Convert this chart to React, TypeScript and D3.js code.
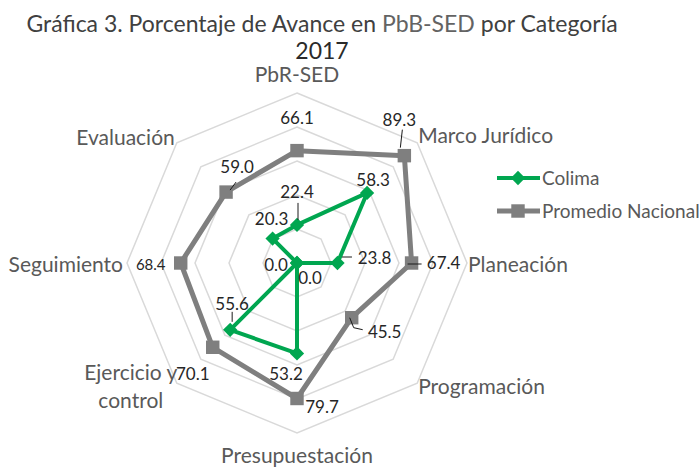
import React from 'react';
import * as d3 from 'd3';

// categorías del radar, en sentido horario desde arriba
const categories = ['PbR-SED', 'Marco Jurídico', 'Planeación', 'Programación', 'Presupuestación', 'Ejercicio y control', 'Seguimiento', 'Evaluación'];
const colima = [22.4, 58.3, 23.8, 0.0, 53.2, 55.6, 0.0, 20.3];
const promedio = [66.1, 89.3, 67.4, 45.5, 79.7, 70.1, 68.4, 59.0];
const ringTicks = [20, 40, 60, 80, 100];
const seriesNames = ['Colima', 'Promedio Nacional'];

const W = 699, H = 470;
const cx = 297, cy = 263, R = 170;
const GREEN = '#00a650';
const GRAY = '#7f7f7f';
const FONT = 'Lato, "Liberation Sans", sans-serif';

// placement of category labels relative to the outer vertex
const catLayout = [
  { anchor: 'middle', dx: 0, dy: -11 },
  { anchor: 'start', dx: 1, dy: 0 },
  { anchor: 'start', dx: 1, dy: 9 },
  { anchor: 'start', dx: 1, dy: 11 },
  { anchor: 'middle', dx: 0, dy: 30 },
  { anchor: 'middle', dx: -46, dy: -3 },
  { anchor: 'end', dx: -4, dy: 9 },
  { anchor: 'end', dx: -2, dy: 2 },
];

// data label offsets (text centre) and leader lines, relative to the marker
const promedioLabels = [
  { dx: 0, dy: -33 },
  { dx: -5, dy: -36, lead: [[-2, -26], [-4, -8]] },
  { dx: 32, dy: 0, lead: [[-4, 1], [10, 1]] },
  { dx: 33, dy: 14, lead: [[-2, 0], [2, 10], [11, 12]] },
  { dx: 25, dy: 9 },
  { dx: -20, dy: 27 },
  { dx: -30, dy: 2, small: true },
  { dx: 11, dy: -25, lead: [[10, -10], [4, -2]] },
];
const colimaLabels = [
  { dx: 0, dy: -33, lead: [[1, -22], [1, -5]] },
  { dx: 6, dy: -13 },
  { dx: 37, dy: -5, lead: [[4.5, -6], [14.5, -6]] },
  { dx: 13, dy: 15 },
  { dx: -11, dy: 21 },
  { dx: 2, dy: -26, lead: [[2, -18], [2, -8]] },
  { dx: -21, dy: 2 },
  { dx: -1, dy: -20 },
];

const rScale = d3.scaleLinear().domain([0, 100]).range([0, R]);
const angle = (i: number) => (i * 2 * Math.PI) / categories.length;
const pt = (i: number, v: number): [number, number] => [
  cx + rScale(v) * Math.sin(angle(i)),
  cy - rScale(v) * Math.cos(angle(i)),
];

const radial = d3.lineRadial<number>()
  .angle((_, i) => angle(i))
  .radius(d => rScale(d))
  .curve(d3.curveLinearClosed);

const diamond = d3.symbol().type(d3.symbolDiamond2).size(130)();
const square = d3.symbol().type(d3.symbolSquare2).size(230)();

function Labels({ values, layout }: { values: number[]; layout: any[] }) {
  return (
    <g>
      {values.map((v, i) => {
        const [x, y] = pt(i, v);
        const l = layout[i];
        return (
          <g key={i}>
            {l.lead && (
              <polyline
                points={l.lead.map((p: number[]) => `${x + p[0]},${y + p[1]}`).join(' ')}
                fill="none" stroke="#1a1a1a" strokeWidth={1} />
            )}
            <text x={x + l.dx} y={y + l.dy} dy="0.35em" textAnchor="middle"
              fontSize={l.small ? 15 : 17} fill="#262626">{v.toFixed(1)}</text>
          </g>
        );
      })}
    </g>
  );
}

export default function App() {
  return (
    <svg width={W} height={H} style={{ position: 'absolute', left: 0, top: 0, background: '#fff' }}
      fontFamily={FONT}>
      {/* title */}
      <text x={322} y={32} textAnchor="middle" fontSize={23} fill="#404040">
        <tspan>Gráfica 3. Porcentaje de Avance en </tspan>
        <tspan fill="#636363">PbB-SED</tspan>
        <tspan> por Categoría</tspan>
      </text>
      <text x={322} y={59} textAnchor="middle" fontSize={23} fill="#2a2a2a">2017</text>

      {/* rings */}
      <g transform={`translate(${cx},${cy})`}>
        {ringTicks.map(t => (
          <path key={t} d={radial(categories.map(() => t)) || ''} fill="none"
            stroke="#d9d9d9" strokeWidth={1.5} />
        ))}
      </g>

      {/* category labels */}
      {categories.map((c, i) => {
        const [x, y] = pt(i, 100);
        const l = catLayout[i];
        const lines = c === 'Ejercicio y control' ? ['Ejercicio y', 'control'] : [c];
        return (
          <text key={c} x={x + l.dx} y={y + l.dy} textAnchor={l.anchor} fontSize={21} fill="#595959">
            {lines.map((s, k) => (
              <tspan key={k} x={x + l.dx} dy={k === 0 ? 0 : 28}>{s}</tspan>
            ))}
          </text>
        );
      })}

      {/* series */}
      <g transform={`translate(${cx},${cy})`}>
        <path d={radial(promedio) || ''} fill="none" stroke={GRAY} strokeWidth={5} strokeLinejoin="round" />
        <path d={radial(colima) || ''} fill="none" stroke={GREEN} strokeWidth={4} strokeLinejoin="round" />
      </g>
      {promedio.map((v, i) => {
        const [x, y] = pt(i, v);
        return <path key={i} d={square || ''} transform={`translate(${x},${y})`} fill={GRAY} />;
      })}
      {colima.map((v, i) => {
        const [x, y] = pt(i, v);
        return <path key={i} d={diamond || ''} transform={`translate(${x},${y})`} fill={GREEN} />;
      })}

      <Labels values={promedio} layout={promedioLabels} />
      <Labels values={colima} layout={colimaLabels} />

      {/* legend */}
      {seriesNames.map((s, i) => {
        const y = 178 + i * 33;
        const col = i === 0 ? GREEN : GRAY;
        return (
          <g key={s}>
            <line x1={497} x2={540} y1={y} y2={y} stroke={col} strokeWidth={i === 0 ? 4 : 5} />
            <path d={(i === 0 ? diamond : square) || ''} transform={`translate(518,${y})`} fill={col} />
            <text x={542} y={y + 7} fontSize={19} fill="#595959">{s}</text>
          </g>
        );
      })}
    </svg>
  );
}
